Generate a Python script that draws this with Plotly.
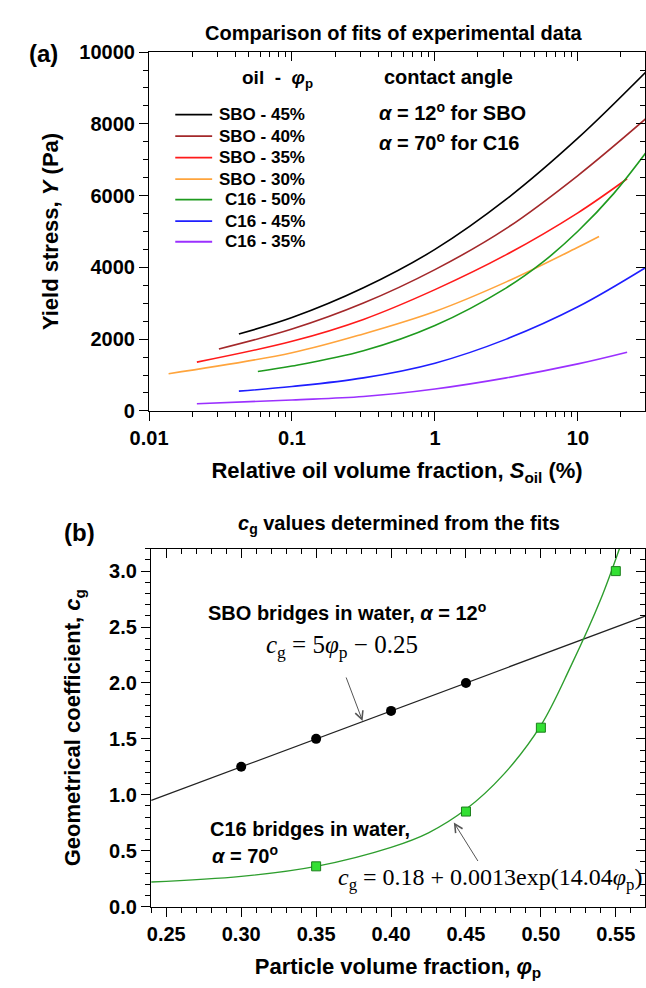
import math
import plotly.graph_objects as go

# ---------------- data: panel (a) yield stress fits ----------------
S_sbo45 = [0.0425, 0.1, 0.316, 1, 3.16, 10, 30]
Y_sbo45 = [2145, 2600, 3430, 4500, 5900, 7600, 9450]
S_sbo40 = [0.0308, 0.1, 0.316, 1, 3.16, 10, 30]
Y_sbo40 = [1725, 2280, 3005, 3937, 5086, 6560, 8150]
S_sbo35 = [0.0216, 0.1, 0.316, 1, 3.16, 10, 22.1]
Y_sbo35 = [1360, 1940, 2550, 3380, 4355, 5520, 6470]
S_sbo30 = [0.0137, 0.1, 0.316, 1, 3.16, 10, 14.06]
Y_sbo30 = [1035, 1620, 2145, 2770, 3595, 4560, 4860]
S_c50 = [0.0577, 0.1, 0.316, 1, 3.16, 5.62, 10, 17.8, 30]
Y_c50 = [1100, 1250, 1675, 2380, 3430, 4130, 5005, 6055, 7200]
S_c45 = [0.0425, 0.1, 0.316, 1, 3.16, 10, 30]
Y_c45 = [550, 680, 920, 1330, 2000, 2900, 4000]
S_c35 = [0.0216, 0.1, 0.316, 1, 3.16, 10, 22.1]
Y_c35 = [200, 305, 400, 610, 920, 1310, 1635]

series_names = ["SBO - 45%", "SBO - 40%", "SBO - 35%", "SBO - 30%",
                "C16 - 50%", "C16 - 45%", "C16 - 35%"]
series_colors = ["#000000", "#A3282A", "#FF1A1A", "#FFA43C",
                 "#1E9A1E", "#1E1EFF", "#9B30FF"]
series_S = [S_sbo45, S_sbo40, S_sbo35, S_sbo30, S_c50, S_c45, S_c35]
series_Y = [Y_sbo45, Y_sbo40, Y_sbo35, Y_sbo30, Y_c50, Y_c45, Y_c35]

# ---------------- data: panel (b) geometrical coefficient ----------------
phi_sbo = [0.30, 0.35, 0.40, 0.45]
cg_sbo = [1.25, 1.50, 1.75, 2.00]
phi_sbo_fit = [0.24, 0.57]
cg_sbo_fit = [0.95, 2.60]
phi_c16 = [0.35, 0.45, 0.50, 0.55]
cg_c16 = [0.36, 0.85, 1.60, 3.00]
phi_c16_fit = [0.24, 0.30, 0.35, 0.40, 0.425, 0.45, 0.475, 0.50, 0.52, 0.54, 0.555]
cg_c16_fit = [0.22, 0.27, 0.36, 0.53, 0.66, 0.87, 1.18, 1.62, 2.15, 2.75, 3.30]

# tick positions
x_major_a = [0.01, 0.1, 1, 10]
x_major_a_text = ["0.01", "0.1", "1", "10"]
x_minor_a = [m * 10.0 ** e for e in range(-2, 2) for m in range(2, 10)]

W, H = 646, 988
def px(p):
    return p / W
def py(p):
    return 1 - p / H

SANS = "Liberation Sans, Arial, sans-serif"
SERIF = "Liberation Serif, Times New Roman, serif"
def bf(size):
    return dict(family=SANS, size=size, color="black", weight="bold")

fig = go.Figure()

for S, Y, nm, col in zip(series_S, series_Y, series_names, series_colors):
    fig.add_trace(go.Scatter(x=S, y=Y, mode="lines", name=nm, showlegend=False,
                             line=dict(color=col, width=1.6, shape="spline", smoothing=1.0),
                             xaxis="x", yaxis="y"))

fig.add_trace(go.Scatter(x=phi_sbo_fit, y=cg_sbo_fit, mode="lines", showlegend=False,
                         line=dict(color="#222222", width=1.2), xaxis="x2", yaxis="y2"))
fig.add_trace(go.Scatter(x=phi_c16_fit, y=cg_c16_fit, mode="lines", showlegend=False,
                         line=dict(color="#2E9E2E", width=1.4, shape="spline"),
                         xaxis="x2", yaxis="y2"))
fig.add_trace(go.Scatter(x=phi_sbo, y=cg_sbo, mode="markers", showlegend=False,
                         marker=dict(symbol="circle", size=10, color="black"),
                         xaxis="x2", yaxis="y2"))
fig.add_trace(go.Scatter(x=phi_c16, y=cg_c16, mode="markers", showlegend=False,
                         marker=dict(symbol="square", size=9, color="#33E033",
                                     line=dict(color="#1C7F1C", width=1)),
                         xaxis="x2", yaxis="y2"))
# invisible traces to activate the frame (mirror) axes
fig.add_trace(go.Scatter(x=[None], y=[None], showlegend=False, hoverinfo="skip",
                         xaxis="x3", yaxis="y3"))
fig.add_trace(go.Scatter(x=[None], y=[None], showlegend=False, hoverinfo="skip",
                         xaxis="x4", yaxis="y4"))

xr_a = [-2, math.log10(29.5)]
yr_a = [0, 10000]
xr_b = [0.2398, 0.5695]
yr_b = [0, 3.2]

dom_xa = [px(134), px(645)]
dom_ya = [py(409), py(42)]
dom_xb = [px(136), px(645)]
dom_yb = [py(916), py(550)]

common = dict(showgrid=False, zeroline=False, showline=True, linecolor="black",
              linewidth=1.2, tickcolor="black", tickwidth=1.2)

fig.update_layout(
    width=W, height=H, margin=dict(l=0, r=0, t=0, b=0),
    paper_bgcolor="white", plot_bgcolor="white",
    font=dict(family=SANS, color="black"),
    showlegend=False,
    xaxis=dict(domain=dom_xa, anchor="y", type="log", range=xr_a,
               tickvals=x_major_a, ticktext=x_major_a_text,
               ticks="outside", ticklen=9,
               minor=dict(ticks="outside", ticklen=5, tickvals=x_minor_a, tickcolor="black"),
               tickfont=bf(20),
               title=dict(text="Relative oil volume fraction, <i>S</i><sub>oil</sub> (%)",
                          font=bf(22), standoff=14), **common),
    yaxis=dict(domain=dom_ya, anchor="x", range=yr_a, dtick=2000, tickformat="d",
               ticks="outside", ticklen=9,
               minor=dict(ticks="outside", ticklen=5, dtick=500, tickcolor="black"),
               tickfont=bf(20),
               title=dict(text="Yield stress, <i>Y</i> (Pa)", font=bf(22), standoff=14),
               **common),
    xaxis3=dict(overlaying="x", side="top", anchor="y", type="log", range=xr_a,
                tickvals=x_major_a, ticks="inside", ticklen=9,
                minor=dict(ticks="inside", ticklen=5, tickvals=x_minor_a, tickcolor="black"),
                showticklabels=False, **common),
    yaxis3=dict(overlaying="y", side="right", anchor="x", range=yr_a, dtick=2000,
                ticks="inside", ticklen=9,
                minor=dict(ticks="inside", ticklen=5, dtick=500, tickcolor="black"),
                showticklabels=False, **common),
    xaxis2=dict(domain=dom_xb, anchor="y2", range=xr_b, tick0=0.25, dtick=0.05,
                tickformat=".2f", ticks="outside", ticklen=9,
                minor=dict(ticks="outside", ticklen=5, dtick=0.01, tickcolor="black"),
                tickfont=bf(20),
                title=dict(text="Particle volume fraction, <i>φ</i><sub>p</sub>",
                           font=bf(22), standoff=14), **common),
    yaxis2=dict(domain=dom_yb, anchor="x2", range=yr_b, tick0=0, dtick=0.5,
                tickformat=".1f", ticks="outside", ticklen=9,
                minor=dict(ticks="outside", ticklen=5, dtick=0.1, tickcolor="black"),
                tickfont=bf(20),
                title=dict(text="Geometrical coefficient, <i>c</i><sub>g</sub>",
                           font=bf(22), standoff=22), **common),
    xaxis4=dict(overlaying="x2", side="top", anchor="y2", range=xr_b, tick0=0.25,
                dtick=0.05, ticks="inside", ticklen=9,
                minor=dict(ticks="inside", ticklen=5, dtick=0.01, tickcolor="black"),
                showticklabels=False, **common),
    yaxis4=dict(overlaying="y2", side="right", anchor="x2", range=yr_b, tick0=0,
                dtick=0.5, ticks="inside", ticklen=9,
                minor=dict(ticks="inside", ticklen=5, dtick=0.1, tickcolor="black"),
                showticklabels=False, **common),
)

ann = []
shapes = []
def text(x, y, s, size, xanchor="center", font=None, xref="paper", yref="paper"):
    ann.append(dict(x=x, y=y, xref=xref, yref=yref, text=s, showarrow=False,
                    xanchor=xanchor, yanchor="middle", font=font or bf(size)))

# legend (key) for panel (a)
leg_rows = [106, 128, 150, 172, 193, 215, 236]
for row, nm, col in zip(leg_rows, series_names, series_colors):
    shapes.append(dict(type="line", xref="paper", yref="paper",
                       x0=px(161), x1=px(199), y0=py(row), y1=py(row),
                       line=dict(color=col, width=1.8)))
    text(px(297), py(row), nm, 17, xanchor="right")

text(px(25), py(43), "(a)", 24)
text(px(386), py(23), "Comparison of fits of experimental data", 20)
text(px(266), py(70), "oil  -  <i>φ</i><sub>p</sub>", 19)
text(px(442), py(68), "contact angle", 20)
text(px(369), py(103), "<i>α</i> = 12<sup>o</sup> for SBO", 20, xanchor="left")
text(px(369), py(133), "<i>α</i> = 70<sup>o</sup> for C16", 20, xanchor="left")
text(px(62), py(533), "(b)", 24)
text(px(392), py(525), "<i>c</i><sub>g</sub> values determined from the fits", 20)
text(0.2768, 2.64, "SBO bridges in water, <i>α</i> = 12<sup>o</sup>", 20,
     xanchor="left", xref="x2", yref="y2")
text(0.315, 2.33, "<i>c</i><sub>g</sub> = 5<i>φ</i><sub>p</sub> − 0.25", 24, xanchor="left",
     font=dict(family=SERIF, size=25, color="black", weight="normal"), xref="x2", yref="y2")
text(0.278, 0.693, "C16 bridges in water,", 20, xanchor="left", xref="x2", yref="y2")
text(0.2795, 0.463, "<i>α</i> = 70<sup>o</sup>", 20, xanchor="left", xref="x2", yref="y2")
text(0.3635, 0.245, "<i>c</i><sub>g</sub> = 0.18 + 0.0013exp(14.04<i>φ</i><sub>p</sub>)", 24,
     xanchor="left", font=dict(family=SERIF, size=24, color="black", weight="normal"),
     xref="x2", yref="y2")

for (hx, hy, axp, ayp) in [(0.381, 1.66, -17, -45), (0.4419, 0.752, 25, 40)]:
    ann.append(dict(x=hx, y=hy, xref="x2", yref="y2", ax=axp, ay=ayp, text="",
                    showarrow=True, arrowhead=5, arrowsize=1.6, arrowwidth=1,
                    arrowcolor="#555555", standoff=0))

fig.update_layout(annotations=ann, shapes=shapes)
fig.write_html("out.html")
